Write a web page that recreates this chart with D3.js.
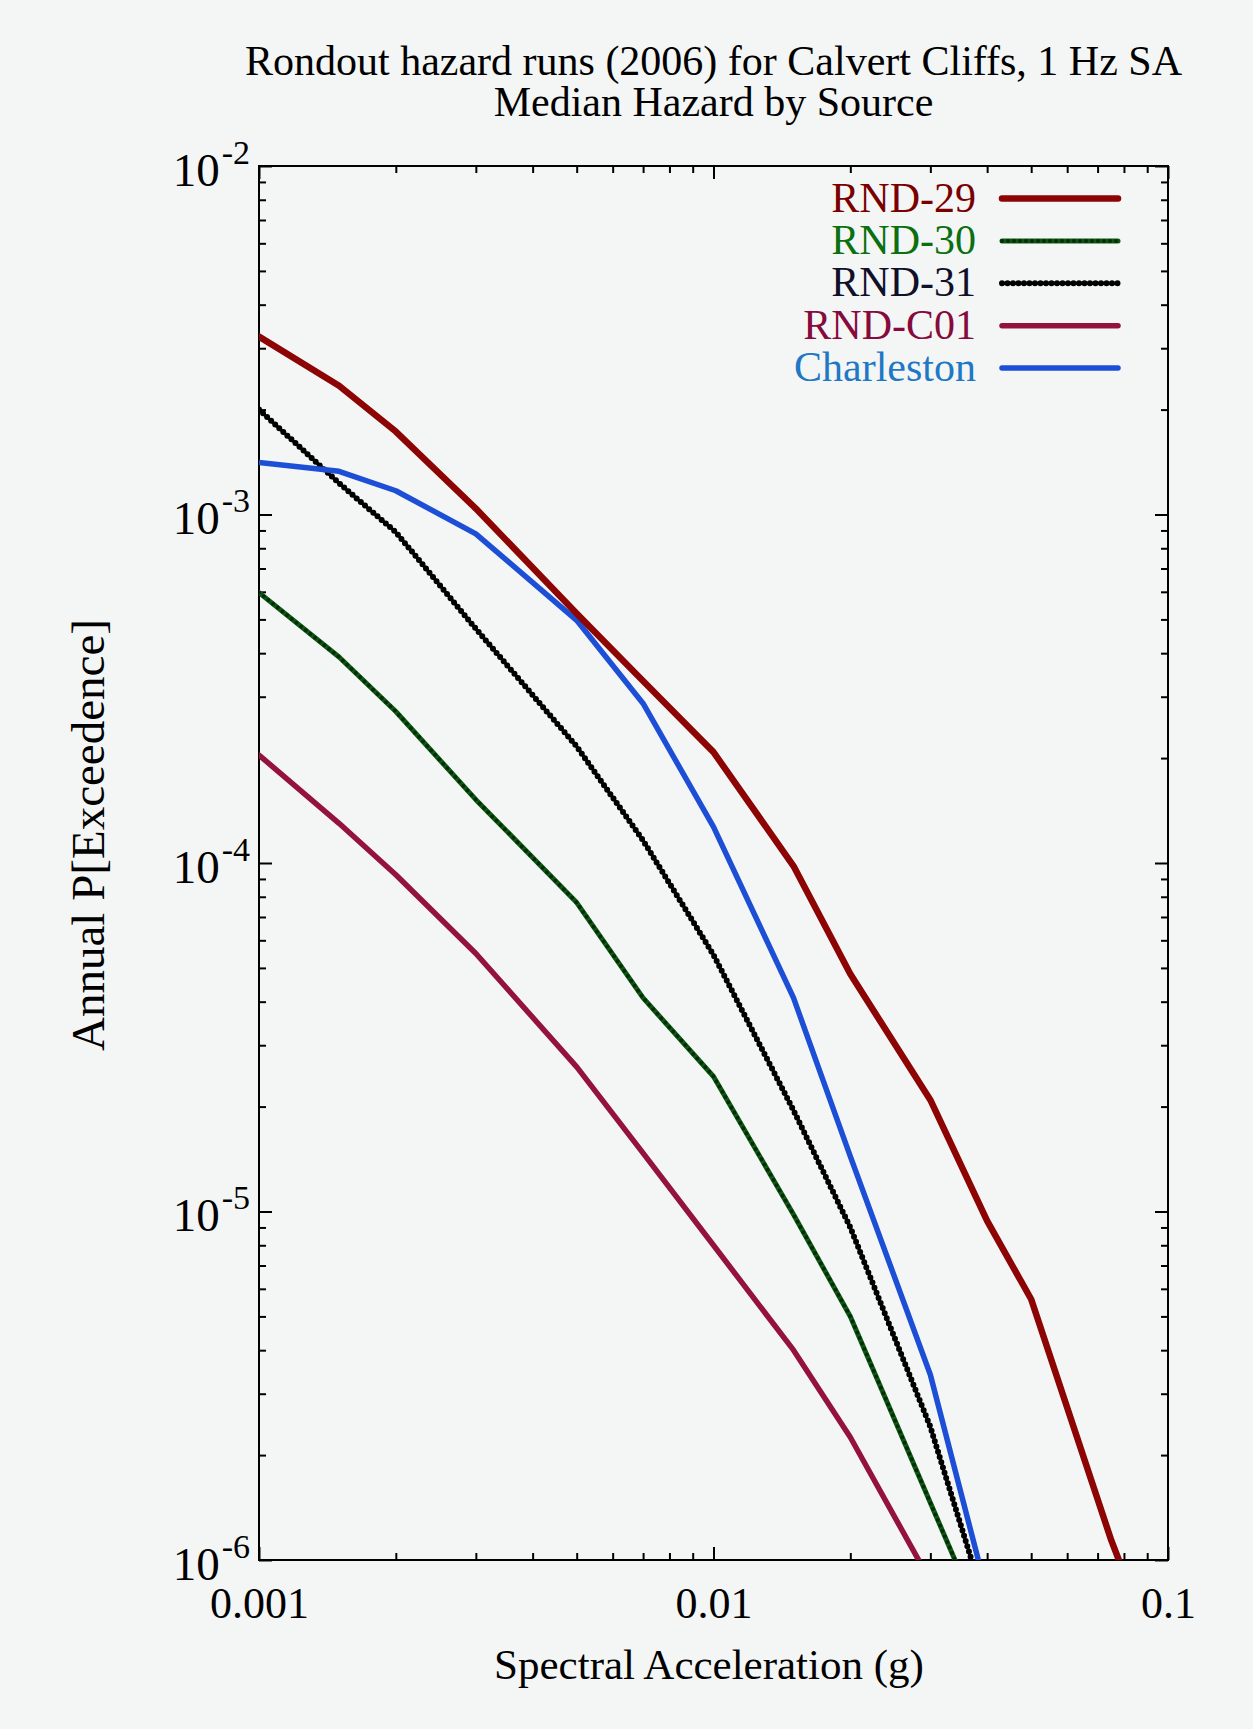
<!DOCTYPE html>
<html>
<head>
<meta charset="utf-8">
<script src="https://cdn.jsdelivr.net/npm/d3@7"></script>
<style>
  body { margin: 0; background: #f4f6f5; }
  svg { display: block; }
  text { font-family: "Liberation Serif", "Times New Roman", serif; }
</style>
</head>
<body>
<div id="chart"></div>
<script>
// spectral acceleration (g) sample points
const accelCommon = [0.001, 0.0015, 0.002, 0.003, 0.005, 0.007, 0.01, 0.015, 0.02, 0.03, 0.05];
const accelRnd29  = [0.001, 0.0015, 0.002, 0.003, 0.005, 0.007, 0.01, 0.015, 0.02, 0.03, 0.04, 0.05, 0.075, 0.1];

// annual probability of exceedence
const rnd29      = [3.24e-3, 2.34e-3, 1.73e-3, 1.04e-3, 5.2e-4, 3.33e-4, 2.08e-4, 9.8e-5, 4.8e-5, 2.09e-5, 9.4e-6, 5.6e-6, 1.14e-6, 4.3e-7];
const rnd30      = [5.97e-4, 3.9e-4, 2.72e-4, 1.52e-4, 7.7e-5, 4.1e-5, 2.44e-5, 9.8e-6, 5.0e-6, 1.46e-6, 3.1e-7];
const rnd31      = [2.0e-3, 1.23e-3, 8.9e-4, 4.7e-4, 2.16e-4, 1.16e-4, 5.45e-5, 1.95e-5, 9.0e-6, 2.41e-6, 2.8e-7];
const rndC01     = [2.04e-4, 1.3e-4, 9.25e-5, 5.5e-5, 2.6e-5, 1.47e-5, 8.0e-6, 4.0e-6, 2.25e-6, 8.7e-7];
const charleston = [1.41e-3, 1.33e-3, 1.17e-3, 8.8e-4, 4.97e-4, 2.87e-4, 1.27e-4, 4.1e-5, 1.44e-5, 3.4e-6, 2.6e-7];

const seriesNames = ["RND-29", "RND-30", "RND-31", "RND-C01", "Charleston"];

// tick values
const xMajor = [0.001, 0.01, 0.1];
const yMajor = [1e-2, 1e-3, 1e-4, 1e-5, 1e-6];
const yExponents = ["-2", "-3", "-4", "-5", "-6"];

const titleLines = ["Rondout hazard runs (2006) for Calvert Cliffs, 1 Hz SA", "Median Hazard by Source"];

(() => {
  const W = 1253, H = 1729;
  const margin = {top: 166, right: 85, bottom: 169, left: 259};
  const width = W - margin.left - margin.right,
        height = H - margin.top - margin.bottom;

  const svg = d3.select("#chart").append("svg")
      .attr("width", W).attr("height", H);

  svg.append("rect").attr("width", W).attr("height", H).attr("fill", "#f4f6f5");

  const g = svg.append("g").attr("transform", `translate(${margin.left},${margin.top})`);

  const x = d3.scaleLog().domain([0.001, 0.1]).range([0, width]);
  const y = d3.scaleLog().domain([1e-6, 1e-2]).range([height, 0]);

  // minor ticks 2..9 of every decade
  const xMinor = [];
  [0.001, 0.01].forEach(d => { for (let k = 2; k <= 9; k++) xMinor.push(d * k); });
  const yMinor = [];
  [1e-6, 1e-5, 1e-4, 1e-3].forEach(d => { for (let k = 2; k <= 9; k++) yMinor.push(d * k); });

  const tickStyle = sel => {
    sel.select(".domain").remove();
    sel.selectAll("line").attr("stroke", "#000").attr("stroke-width", 2);
  };

  // bottom / top
  g.append("g").attr("transform", `translate(0,${height})`)
    .call(d3.axisBottom(x).tickValues(xMinor).tickSize(-7).tickFormat("")).call(tickStyle);
  const xb = g.append("g").attr("transform", `translate(0,${height})`)
    .call(d3.axisBottom(x).tickValues(xMajor).tickSize(-13).tickFormat(d => String(d)))
    .call(tickStyle);
  xb.selectAll("text")
    .attr("y", 58).attr("dy", null)
    .attr("fill", "#000").style("font-size", "44px");

  g.append("g").call(d3.axisTop(x).tickValues(xMinor).tickSize(-7).tickFormat("")).call(tickStyle);
  g.append("g").call(d3.axisTop(x).tickValues(xMajor).tickSize(-13).tickFormat("")).call(tickStyle);

  // left / right
  g.append("g").call(d3.axisLeft(y).tickValues(yMinor).tickSize(-7).tickFormat("")).call(tickStyle);
  const yl = g.append("g")
    .call(d3.axisLeft(y).tickValues(yMajor).tickSize(-13).tickPadding(9).tickFormat(() => "10"))
    .call(tickStyle);
  yl.selectAll("text")
    .attr("dy", null).attr("y", 19)
    .attr("fill", "#000").style("font-size", "47px")
    .append("tspan")
    .attr("dx", 2).attr("dy", -22)
    .style("font-size", "34px")
    .text((d, i) => yExponents[i]);

  g.append("g").attr("transform", `translate(${width},0)`)
    .call(d3.axisRight(y).tickValues(yMinor).tickSize(-7).tickFormat("")).call(tickStyle);
  g.append("g").attr("transform", `translate(${width},0)`)
    .call(d3.axisRight(y).tickValues(yMajor).tickSize(-13).tickFormat("")).call(tickStyle);

  // frame
  g.append("rect").attr("width", width).attr("height", height)
    .attr("fill", "none").attr("stroke", "#000").attr("stroke-width", 2);

  // curves
  g.append("clipPath").attr("id", "plotclip")
    .append("rect").attr("width", width).attr("height", height);

  const line = d3.line().x(d => x(d[0])).y(d => y(d[1]));

  const series = [
    {name: seriesNames[0], pts: d3.zip(accelRnd29, rnd29), color: "#8c0404", text: "#7a0000", w: 6.5},
    {name: seriesNames[1], pts: d3.zip(accelCommon, rnd30), color: "#0b5a12", text: "#0a7010", w: 5, beads: "#082a0a"},
    {name: seriesNames[2], pts: d3.zip(accelCommon, rnd31), color: "#0a0a14", text: "#10102a", w: 3, beads: "#000"},
    {name: seriesNames[3], pts: d3.zip(accelCommon, rndC01), color: "#93123e", text: "#860a3c", w: 5.5},
    {name: seriesNames[4], pts: d3.zip(accelCommon, charleston), color: "#1c4fd6", text: "#1f78c4", w: 5.5}
  ];

  const plot = g.append("g").attr("clip-path", "url(#plotclip)");

  const drawSeries = (sel, s, path) => {
    sel.append("path").attr("d", path)
      .attr("fill", "none").attr("stroke", s.color)
      .attr("stroke-width", s.w).attr("stroke-linejoin", "round").attr("stroke-linecap", "round");
    if (s.beads) {
      sel.append("path").attr("d", path)
        .attr("fill", "none").attr("stroke", s.beads)
        .attr("stroke-width", s.name === "RND-31" ? 6 : 4)
        .attr("stroke-dasharray", s.name === "RND-31" ? "0 5.5" : "0 6")
        .attr("stroke-linecap", "round");
    }
  };

  // draw order: back to front like the picture
  [3, 1, 2, 4, 0].forEach(i => drawSeries(plot.append("g"), series[i], line(series[i].pts)));

  // legend
  const leg = g.append("g");
  series.forEach((s, i) => {
    const cy = 32.5 + i * 42.4;
    leg.append("text")
      .attr("x", 976 - margin.left).attr("y", cy + 13)
      .attr("text-anchor", "end")
      .attr("fill", s.text)
      .style("font-size", "42px")
      .text(s.name);
    drawSeries(leg.append("g"), s, `M${1002 - margin.left},${cy}H${1118 - margin.left}`);
  });

  // titles
  titleLines.forEach((t, i) => {
    svg.append("text")
      .attr("x", margin.left + width / 2).attr("y", 75 + i * 41)
      .attr("text-anchor", "middle")
      .style("font-size", "42px")
      .text(t);
  });

  svg.append("text")
    .attr("x", 709).attr("y", 1679)
    .attr("text-anchor", "middle")
    .style("font-size", "43px")
    .text("Spectral Acceleration (g)");

  svg.append("text")
    .attr("transform", "translate(104,835) rotate(-90)")
    .attr("text-anchor", "middle")
    .style("font-size", "47px")
    .text("Annual P[Exceedence]");
})();
</script>
</body>
</html>
